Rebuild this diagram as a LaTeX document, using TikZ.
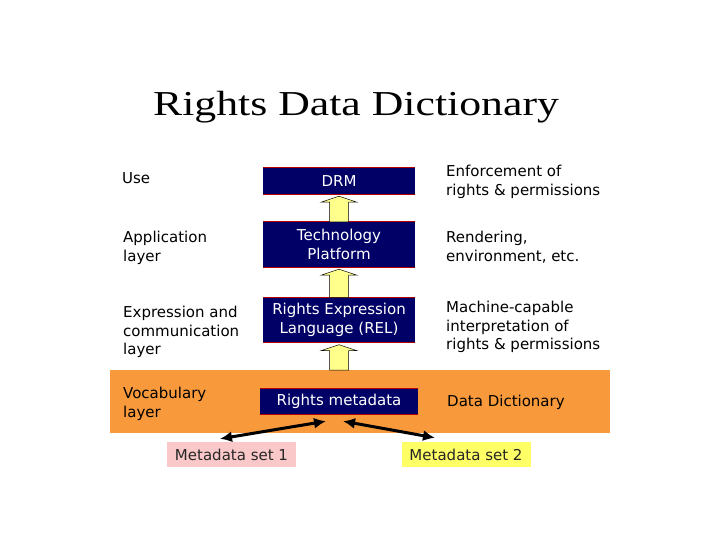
\documentclass[tikz,border=0pt]{standalone}
\usepackage{fontspec}
\setmainfont{DejaVu Sans}
\newfontfamily\titlefont{Liberation Serif}
\usetikzlibrary{arrows.meta,calc}

\definecolor{navy}{RGB}{0,0,102}
\definecolor{bandorange}{RGB}{248,154,60}
\definecolor{setpink}{RGB}{250,200,200}
\definecolor{setyellow}{RGB}{255,255,102}
\definecolor{arrowyellow}{RGB}{255,255,140}

\tikzset{
  txt/.style={font=\fontsize{15}{18.5}\selectfont, inner sep=0pt, align=left},
  layerbox/.style={fill=navy, text=white, font=\fontsize{15}{18.5}\selectfont,
    align=center, minimum width=152pt, inner sep=0pt},
  setbox/.style={font=\fontsize{15}{18.5}\selectfont, text=black!85,
    minimum width=129pt, minimum height=25pt, inner sep=0pt},
  redline/.style={draw=red!70!black, line width=1pt},
  yarrow/.style={draw=black, fill=arrowyellow, line width=0.5pt},
  dblarrow/.style={line width=3pt, {Latex[length=12pt,width=11pt]}-{Latex[length=12pt,width=11pt]}}
}

\newcommand{\blockup}[2]{%
  \draw[yarrow] let \p1=(#1.north), \p2=(#2.south) in
    (\x1-9.5pt,\y1) -- (\x1-9.5pt,\y2-8pt) -- (\x1-18pt,\y2-8pt) -- (\x1,\y2-2pt)
    -- (\x1+18pt,\y2-8pt) -- (\x1+9.5pt,\y2-8pt) -- (\x1+9.5pt,\y1) -- cycle;}

\begin{document}
\begin{tikzpicture}[x=1pt,y=-1pt]
  \useasboundingbox (0,0) rectangle (720,540);

  % title
  \node[anchor=base, inner sep=0pt] (title) at (356,116)
    {\titlefont\fontsize{35}{40}\selectfont\scalebox{1.25}[1]{Rights Data Dictionary}};

  % vocabulary band
  \fill[bandorange] (110,370) rectangle (610,433);

  % stack of layers
  \node[layerbox, minimum height=26pt] (drm) at (339,181) {DRM};
  \node[layerbox, minimum height=45pt] (tech) at (339,244.5) {Technology\\Platform};
  \node[layerbox, minimum height=45pt] (rel) at (339,320) {Rights Expression\\Language (REL)};
  \node[layerbox, minimum width=158pt, minimum height=25pt] (meta) at (339,401.5) {Rights metadata};

  \foreach \b in {drm,tech,rel,meta} {
    \draw[redline] (\b.north west) -- (\b.north east);
    \draw[redline] (\b.south west) -- (\b.south east);
  }

  % yellow arrows
  \blockup{tech}{drm}
  \blockup{rel}{tech}
  \coordinate (bandtop) at (339,370);
  \draw[yarrow] let \p1=(bandtop), \p2=(rel.south) in
    (\x1-9.5pt,\y1) -- (\x1-9.5pt,\y2-8pt) -- (\x1-18pt,\y2-8pt) -- (\x1,\y2-2pt)
    -- (\x1+18pt,\y2-8pt) -- (\x1+9.5pt,\y2-8pt) -- (\x1+9.5pt,\y1) -- cycle;

  % left labels
  \node[txt, anchor=north west] (use) at (122,172) {Use};
  \node[txt, anchor=north west] (app) at (123,231) {Application\\layer};
  \node[txt, anchor=north west] (expr) at (123,306) {Expression and\\communication\\layer};
  \node[txt, anchor=north west] (vocab) at (123,387) {Vocabulary\\layer};

  % right labels
  \node[txt, anchor=north west] (enf) at (446,165) {Enforcement of\\rights \& permissions};
  \node[txt, anchor=north west] (rend) at (446,231) {Rendering,\\environment, etc.};
  \node[txt, anchor=north west] (mach) at (446,301) {Machine-capable\\interpretation of\\rights \& permissions};
  \node[txt, anchor=north west] (dd) at (447,395) {Data Dictionary};

  % metadata sets
  \node[setbox, fill=setpink] (set1) at (231.5,454.5) {Metadata set 1};
  \node[setbox, fill=setyellow] (set2) at (466,454.5) {Metadata set 2};

  \draw[dblarrow] ([xshift=-11.5pt,yshift=3pt]set1.north) -- ([xshift=-13pt,yshift=-7pt]meta.south);
  \draw[dblarrow] ([xshift=4pt,yshift=-7pt]meta.south) -- ([xshift=-31pt,yshift=4pt]set2.north);
\end{tikzpicture}
\end{document}
